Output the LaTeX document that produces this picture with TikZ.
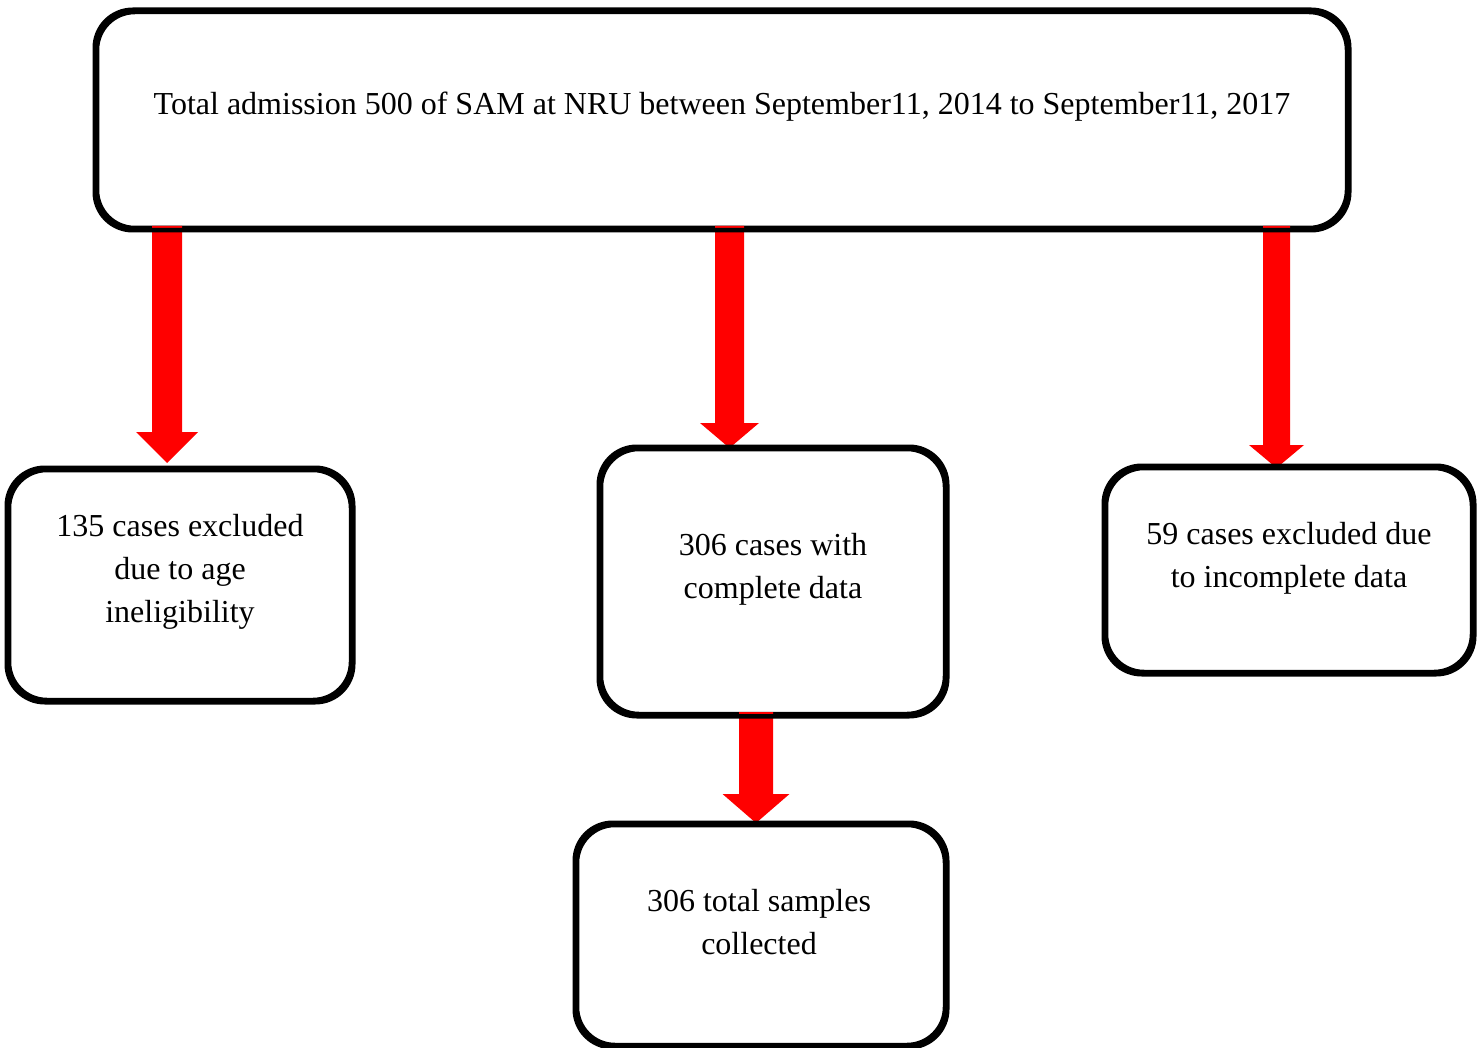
\documentclass[tikz,border=0pt]{standalone}
\usepackage{fontspec}
\setmainfont{Liberation Serif}
\usetikzlibrary{calc}
% block arrow: start, tip, half shaft width, half head width, head length
\newcommand{\blockarrow}[5]{%
  \fill[red] ($(#1)+(-#3,0)$) -- ($(#2)+(-#3,-#5)$) -- ($(#2)+(-#4,-#5)$) -- (#2)
    -- ($(#2)+(#4,-#5)$) -- ($(#2)+(#3,-#5)$) -- ($(#1)+(#3,0)$) -- cycle;}
\begin{document}
\begin{tikzpicture}[x=1pt,y=-1pt,
  box/.style={draw=black, line width=4.5pt, rounded corners=38pt, inner sep=0pt},
  frame/.style={line width=4.5pt, rounded corners=38pt},
  txt/.style={align=center, font=\fontsize{32}{43}\selectfont, inner sep=0pt}]
\useasboundingbox (0,0) rectangle (1483,1048);
% boxes (shapes only)
\node[box, minimum width=1250pt, minimum height=216pt] (top) at (722,120) {};
\node[box, minimum width=342pt, minimum height=230pt] (left) at (180,585) {};
\node[box, minimum width=344pt, minimum height=265pt] (mid) at (773,581.5) {};
\node[box, minimum width=366pt, minimum height=204pt] (right) at (1289,570) {};
\node[box, minimum width=368pt, minimum height=220pt] (bot) at (761,935) {};
% arrows
\coordinate (a1s) at (167,226);
\coordinate (a1e) at (167,463);
\coordinate (a2s) at (729.5,226);
\coordinate (a2e) at (729.5,448);
\coordinate (a3s) at (1276.5,226);
\coordinate (a3e) at (1276.5,468);
\coordinate (a4s) at (756,712);
\coordinate (a4e) at (756,823);
\blockarrow{a1s}{a1e}{15}{31}{31}
\blockarrow{a2s}{a2e}{14.5}{29.5}{25}
\blockarrow{a3s}{a3e}{13.5}{27.5}{23}
\blockarrow{a4s}{a4e}{17}{33.5}{29}
% redraw box frames over arrows
\draw[frame] (top.north west) rectangle (top.south east);
\draw[frame] (left.north west) rectangle (left.south east);
\draw[frame] (mid.north west) rectangle (mid.south east);
\draw[frame] (right.north west) rectangle (right.south east);
\draw[frame] (bot.north west) rectangle (bot.south east);
% texts
\node[txt] (toptxt) at (722,107) {Total admission 500 of SAM at NRU between September11, 2014 to September11, 2017};
\node[txt] (lefttxt) at (180,572) {135 cases excluded\\due to age\\ineligibility};
\node[txt] (midtxt) at (773,569) {306 cases with\\complete data};
\node[txt] (righttxt) at (1289,558) {59 cases excluded due\\to incomplete data};
\node[txt] (bottxt) at (759,922) {306 total samples\\collected};
\end{tikzpicture}
\end{document}
